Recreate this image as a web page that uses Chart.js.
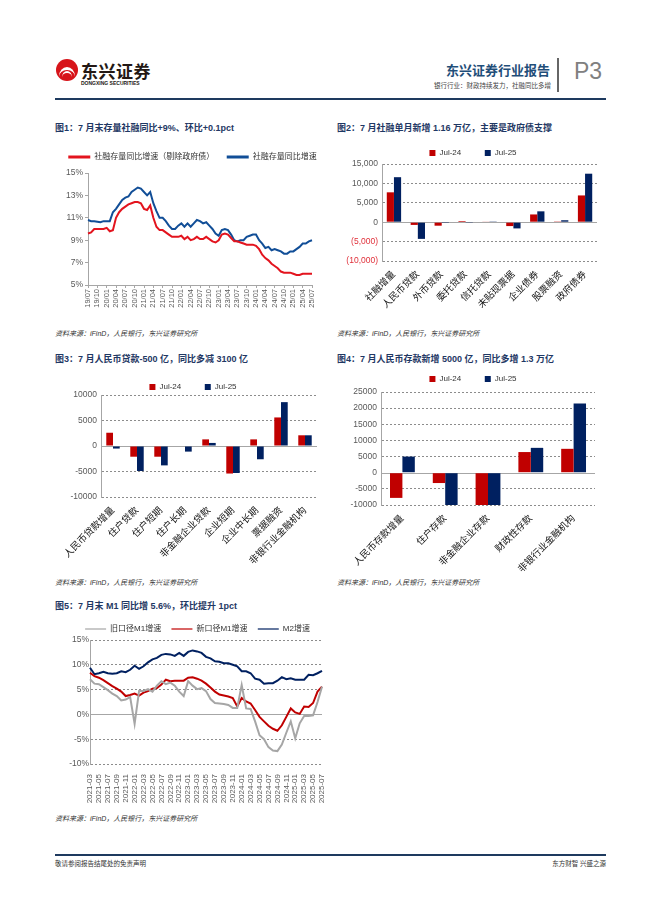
<!DOCTYPE html>
<html lang="zh">
<head>
<meta charset="UTF-8">
<title>东兴证券行业报告 P3</title>
<script src="https://cdn.jsdelivr.net/npm/chart.js"></script>
<style>
  body { margin: 0; background: #fff; font-family: "Liberation Sans", "Noto Sans CJK SC", sans-serif; }
  #page { position: relative; width: 662px; height: 898px; overflow: hidden; }
  .abs { position: absolute; white-space: nowrap; }
  .title { font-size: 9px; font-weight: bold; color: #1F3864; }
  .src { font-size: 7px; font-style: italic; color: #333; }
  canvas { position: absolute; }
</style>
</head>
<body>
<div id="page">
  <!-- header -->
  <div class="abs" style="left:56px;top:59px;width:22px;height:22px;border-radius:50%;background:#D7141A;overflow:hidden">
    <div style="position:absolute;left:3px;top:8px;width:16px;height:16px;border-radius:50%;border-top:3px solid #fff;"></div>
    <div style="position:absolute;left:6px;top:12px;width:10px;height:10px;border-radius:50%;border-top:2px solid #fff;"></div>
  </div>
  <div class="abs" style="left:81px;top:58px;font-size:17px;font-weight:bold;color:#231815;letter-spacing:0.5px">东兴证券</div>
  <div class="abs" style="left:81px;top:80px;font-size:5px;font-weight:bold;color:#231815">DONGXING SECURITIES</div>
  <div class="abs" style="right:112px;top:60px;font-size:13px;font-weight:bold;color:#1F4E79">东兴证券行业报告</div>
  <div class="abs" style="right:111px;top:80px;font-size:6.5px;color:#444">银行行业：财政持续发力，社融同比多增</div>
  <div class="abs" style="left:557px;top:58px;width:1.5px;height:34px;background:#666"></div>
  <div class="abs" style="left:574px;top:58px;font-size:23px;color:#808080;font-family:'Liberation Sans'">P3</div>
  <div class="abs" style="left:55px;top:98px;width:551px;height:1.5px;background:#1E3A5F"></div>

  <div class="abs title" style="left:55px;top:121px">图1：7 月末存量社融同比+9%、环比+0.1pct</div>
  <div class="abs title" style="left:337px;top:121px">图2：7 月社融单月新增 1.16 万亿，主要是政府债支撑</div>
  <canvas id="c1" width="305" height="172" style="left:25px;top:145px"></canvas>
  <canvas id="c2" width="280" height="178" style="left:335px;top:141px"></canvas>
  <div class="abs src" style="left:55px;top:328px">资料来源：iFinD，人民银行，东兴证券研究所</div>
  <div class="abs src" style="left:337px;top:328px">资料来源：iFinD，人民银行，东兴证券研究所</div>

  <div class="abs title" style="left:55px;top:352px">图3：7 月人民币贷款-500 亿，同比多减 3100 亿</div>
  <div class="abs title" style="left:337px;top:352px">图4：7 月人民币存款新增 5000 亿，同比多增 1.3 万亿</div>
  <canvas id="c3" width="290" height="190" style="left:45px;top:375px"></canvas>
  <canvas id="c4" width="280" height="210" style="left:335px;top:367px"></canvas>
  <div class="abs src" style="left:55px;top:577px">资料来源：iFinD，人民银行，东兴证券研究所</div>
  <div class="abs src" style="left:337px;top:577px">资料来源：iFinD，人民银行，东兴证券研究所</div>

  <div class="abs title" style="left:55px;top:599px">图5：7 月末 M1 同比增 5.6%，环比提升 1pct</div>
  <canvas id="c5" width="295" height="187" style="left:45px;top:617px"></canvas>
  <div class="abs src" style="left:55px;top:813px">资料来源：iFinD，人民银行，东兴证券研究所</div>

  <!-- footer -->
  <div class="abs" style="left:55px;top:854px;width:551px;height:1.5px;background:#1E3A5F"></div>
  <div class="abs" style="left:55px;top:858px;font-size:6.5px;color:#333">敬请参阅报告结尾处的免责声明</div>
  <div class="abs" style="right:56px;top:858px;font-size:6.5px;color:#333">东方财智 兴盛之源</div>
</div>

<script>
// 图1 存量社融同比（月度）
const months1 = [
  '19/07','19/08','19/09','19/10','19/11','19/12',
  '20/01','20/02','20/03','20/04','20/05','20/06','20/07','20/08','20/09','20/10','20/11','20/12',
  '21/01','21/02','21/03','21/04','21/05','21/06','21/07','21/08','21/09','21/10','21/11','21/12',
  '22/01','22/02','22/03','22/04','22/05','22/06','22/07','22/08','22/09','22/10','22/11','22/12',
  '23/01','23/02','23/03','23/04','23/05','23/06','23/07','23/08','23/09','23/10','23/11','23/12',
  '24/01','24/02','24/03','24/04','24/05','24/06','24/07','24/08','24/09','24/10','24/11','24/12',
  '25/01','25/02','25/03','25/04','25/05','25/06','25/07'
];
const tsfExGov = [9.6,9.7,10.0,10.0,10.0,10.0, 10.1,9.8,9.9,11.0,11.5,11.8, 12.0,12.2,12.3,12.4,12.4,12.3,
  11.8,11.7,12.1,11.0,10.2,9.9, 9.9,9.7,9.5,9.3,9.3,9.3, 9.4,9.1,9.3,9.0,9.1,9.3,
  9.1,9.1,9.3,9.1,8.9,8.8, 9.0,9.5,9.6,9.5,9.2,8.9, 8.9,8.8,8.7,8.6,8.6,8.6,
  8.5,8.2,7.7,7.4,7.2,6.9, 6.7,6.5,6.2,6.1,6.1,6.1, 6.0,5.9,5.9,6.0,6.0,6.0,6.0];
const tsfTotal = [10.8,10.7,10.7,10.65,10.6,10.7, 10.7,10.7,11.5,11.8,12.2,12.6, 12.8,12.9,13.3,13.5,13.7,13.6,
  13.3,13.0,13.3,12.3,11.6,11.0, 11.0,10.7,10.3,10.0,10.0,10.3, 10.5,10.2,10.5,10.2,10.5,10.8,
  10.7,10.5,10.6,10.3,10.0,9.6, 9.4,9.9,10.0,9.9,9.5,9.0, 8.9,9.0,9.0,9.3,9.4,9.5,
  9.5,9.0,8.7,8.3,8.4,8.1, 8.2,8.1,8.0,7.8,7.8,8.0, 8.0,8.2,8.4,8.7,8.7,8.9,9.0];

// 图2 社融单月新增（亿元）
const cats2 = ['社融增量','人民币贷款','外币贷款','委托贷款','信托贷款','未贴现票据','企业债券','股票融资','政府债券'];
const tsf24 = [7700,-700,-900,300,100,-1000,2000,200,6900];
const tsf25 = [11600,-4300,-30,-200,60,-1600,2800,500,12500];

// 图3 人民币贷款（亿元）
const cats3 = ['人民币贷款增量','住户贷款','住户短期','住户长期','非金融企业贷款','企业短期','企业中长期','票据融资','非银行业金融机构'];
const loan24 = [2600,-2100,-2100,0,1300,-5400,1300,5600,2100];
const loan25 = [-500,-4900,-3800,-1100,600,-5300,-2600,8600,2100];

// 图4 人民币存款（亿元）
const cats4 = ['人民币存款增量','住户存款','非金融企业存款','财政性存款','非银行业金融机构'];
const dep24 = [-7800,-3200,-12000,6400,7400];
const dep25 = [5000,-11100,-14600,7700,21400];

// 图5 M1/M2 同比（月度）
const months5 = [
  '2021-03','2021-04','2021-05','2021-06','2021-07','2021-08','2021-09','2021-10','2021-11','2021-12',
  '2022-01','2022-02','2022-03','2022-04','2022-05','2022-06','2022-07','2022-08','2022-09','2022-10','2022-11','2022-12',
  '2023-01','2023-02','2023-03','2023-04','2023-05','2023-06','2023-07','2023-08','2023-09','2023-10','2023-11','2023-12',
  '2024-01','2024-02','2024-03','2024-04','2024-05','2024-06','2024-07','2024-08','2024-09','2024-10','2024-11','2024-12',
  '2025-01','2025-02','2025-03','2025-04','2025-05','2025-06','2025-07'
];
const m1Old = [7.1,6.2,6.1,5.5,4.9,4.2,3.7,2.8,3.0,3.5, -1.9,4.7,4.7,5.1,4.6,5.8,6.7,6.1,6.4,5.8,
  4.6,3.7,6.7,5.8,5.1,5.3,4.7,3.1,2.3,2.2, 2.1,1.9,1.3,1.3,5.9,1.2,1.1,-1.4,-4.2,-5.0,
  -6.6,-7.3,-7.4,-6.1,-3.7,-1.4,-4.8,-1.8,-0.3,-0.3, -0.2,2.5,5.6];
const m1New = [8.4,7.7,7.4,6.9,6.3,5.7,5.2,4.6,3.7,3.9, 4.2,3.8,4.4,4.7,5.2,5.3,6.0,7.0,6.7,6.8,
  6.8,6.8,7.4,7.5,7.2,6.8,6.2,5.4,4.6,4.0, 3.8,3.6,3.3,1.6,3.3,2.6,2.2,0.9,-0.5,-1.4,
  -2.3,-2.9,-3.3,-2.2,-0.5,1.2,0.4,0.1,1.6,1.5, 2.3,4.6,5.6];
const m2 = [9.4,8.1,8.3,8.6,8.3,8.2,8.3,8.7,8.5,9.0, 9.8,9.2,9.7,10.5,11.1,11.4,12.0,12.2,12.1,11.8,
  12.4,11.8,12.6,12.9,12.7,12.4,11.6,11.3,10.7,10.6, 10.3,10.3,10.0,9.7,8.7,8.7,8.3,7.2,7.0,6.2,
  6.3,6.3,6.8,7.5,7.1,7.3,7.0,7.0,7.0,8.0, 7.9,8.3,8.8];

const RED = '#C00000', NAVY = '#002060', AXIS = '#A6A6A6';

Chart.defaults.font.family = "'Liberation Sans', 'Noto Sans CJK SC', sans-serif";
Chart.defaults.color = '#595959';
Chart.defaults.animation = false;

// move the legend: extra space under it, and a sideways nudge
const legendShift = {
  id: 'legendShift',
  beforeLayout(chart, args, opts) {
    const lg = chart.legend;
    if (lg && !lg._shifted) {
      const fit = lg.fit;
      lg.fit = function () { fit.call(this); this.height += opts.extra || 0; };
      lg._shifted = true;
    }
  },
  afterLayout(chart, args, opts) {
    const lg = chart.legend;
    if (lg && opts.dx) { lg.left += opts.dx; lg.right += opts.dx; }
  }
};

// solid line at zero
const zeroLine = {
  id: 'zeroLine',
  beforeDatasetsDraw(chart) {
    const y = Math.round(chart.scales.y.getPixelForValue(0)) + 0.5;
    const a = chart.chartArea, ctx = chart.ctx;
    ctx.save();
    ctx.strokeStyle = AXIS;
    ctx.lineWidth = 1;
    ctx.beginPath(); ctx.moveTo(a.left, y); ctx.lineTo(a.right, y); ctx.stroke();
    ctx.restore();
  }
};

// legend items with a wider gap after them (and optional line width)
function spaced(gap, lw) {
  return chart => Chart.defaults.plugins.legend.labels.generateLabels(chart)
    .map((it, i, arr) => {
      if (i < arr.length - 1) it.text += gap;
      if (lw) it.lineWidth = lw;
      return it;
    });
}

function everyNth(n) {
  return s => { s.ticks = s.ticks.filter((t, i) => i % n === 0); };
}

// 图1
new Chart(document.getElementById('c1'), {
  type: 'line',
  data: {
    labels: months1,
    datasets: [
      { label: '社融存量同比增速（剔除政府债）', data: tsfExGov, borderColor: '#E3141E', backgroundColor: '#E3141E', borderWidth: 2, pointRadius: 0, tension: 0 },
      { label: '社融存量同比增速', data: tsfTotal, borderColor: '#114E97', backgroundColor: '#114E97', borderWidth: 2, pointRadius: 0, tension: 0 }
    ]
  },
  options: {
    responsive: false,
    layout: { padding: { left: 0, right: 18, top: 0, bottom: 0 } },
    plugins: {
      legend: { labels: { font: { size: 8 }, color: '#333', padding: 8, usePointStyle: true, pointStyle: 'line', pointStyleWidth: 22, generateLabels: spaced('  ', 3) } },
      legendShift: { extra: 2, dx: 24 },
      tooltip: { enabled: false }
    },
    scales: {
      x: {
        afterFit: s => { s.height = 32; },
        afterBuildTicks: everyNth(3),
        ticks: { autoSkip: false, minRotation: 90, maxRotation: 90, font: { size: 7.5 }, padding: 1 },
        grid: { drawOnChartArea: false, tickLength: 3, color: AXIS },
        border: { color: AXIS }
      },
      y: {
        min: 5, max: 15,
        afterFit: s => { s.width = 63; },
        ticks: { stepSize: 2, callback: v => v + '%', font: { size: 8.5 }, padding: 2 },
        grid: { drawOnChartArea: false, tickLength: 3, color: AXIS },
        border: { color: AXIS }
      }
    }
  },
  plugins: [legendShift]
});

function barChart(id, cats, a, b, cfg) {
  return new Chart(document.getElementById(id), {
    type: 'bar',
    data: {
      labels: cats,
      datasets: [
        { label: 'Jul-24', data: a, backgroundColor: RED, borderWidth: 0 },
        { label: 'Jul-25', data: b, backgroundColor: NAVY, borderWidth: 0 }
      ]
    },
    options: {
      responsive: false,
      datasets: { bar: { categoryPercentage: cfg.cat, barPercentage: 1 } },
      layout: { padding: { left: 0, right: cfg.padR, top: 0, bottom: 0 } },
      plugins: {
        legend: { labels: { font: { size: 8 }, color: '#333', padding: 8, boxWidth: 6, boxHeight: 6, generateLabels: spaced('       ') } },
        legendShift: { extra: cfg.extra, dx: cfg.dx },
        tooltip: { enabled: false }
      },
      scales: {
        x: {
          afterFit: s => { s.height = cfg.xH; },
          ticks: { autoSkip: false, minRotation: 45, maxRotation: 45, font: { size: 9.5 }, color: '#111', padding: 0 },
          grid: { display: false },
          border: { display: false }
        },
        y: {
          min: cfg.min, max: cfg.max,
          afterFit: s => { s.width = cfg.yW; },
          ticks: { stepSize: 5000, font: { size: 8.5 }, padding: 4, callback: cfg.fmt, color: cfg.tickColor || '#595959' },
          grid: { drawTicks: false, color: c => (c.tick && c.tick.value === 0) ? 'rgba(0,0,0,0)' : '#8C8C8C' },
          border: { color: AXIS, dash: [2, 2] }
        }
      }
    },
    plugins: [legendShift, zeroLine]
  });
}

// 图2
barChart('c2', cats2, tsf24, tsf25, {
  cat: 0.6, padR: 18, yW: 47, xH: 58, extra: -3, dx: 7, min: -10000, max: 15000,
  fmt: v => v < 0 ? '(' + (-v).toLocaleString('en-US') + ')' : v.toLocaleString('en-US'),
  tickColor: c => c.tick.value < 0 ? '#E0303A' : '#595959'
});

// 图3
barChart('c3', cats3, loan24, loan25, {
  cat: 0.56, padR: 18, yW: 56, xH: 68, extra: -6, dx: 12, min: -10000, max: 10000,
  fmt: v => v
});

// 图4
barChart('c4', cats4, dep24, dep25, {
  cat: 0.58, padR: 20, yW: 46, xH: 72, extra: -1, dx: 8, min: -10000, max: 25000,
  fmt: v => v
});

// 图5
new Chart(document.getElementById('c5'), {
  type: 'line',
  data: {
    labels: months5,
    datasets: [
      { label: '旧口径M1增速', data: m1Old, borderColor: '#A6A6A6', backgroundColor: '#A6A6A6', borderWidth: 2, pointRadius: 0 },
      { label: '新口径M1增速', data: m1New, borderColor: RED, backgroundColor: RED, borderWidth: 2, pointRadius: 0 },
      { label: 'M2增速', data: m2, borderColor: NAVY, backgroundColor: NAVY, borderWidth: 2, pointRadius: 0 }
    ]
  },
  options: {
    responsive: false,
    layout: { padding: { left: 0, right: 18, top: 0, bottom: 0 } },
    plugins: {
      legend: { labels: { font: { size: 8 }, color: '#333', padding: 8, usePointStyle: true, pointStyle: 'line', pointStyleWidth: 21, generateLabels: spaced(' ', 1.2) } },
      legendShift: { extra: -3, dx: 14 },
      tooltip: { enabled: false }
    },
    scales: {
      x: {
        afterFit: s => { s.height = 40; },
        afterBuildTicks: everyNth(2),
        ticks: { autoSkip: false, minRotation: 90, maxRotation: 90, font: { size: 8 }, padding: 2 },
        grid: { display: false },
        border: { display: false }
      },
      y: {
        min: -10, max: 15,
        afterFit: s => { s.width = 45; },
        ticks: { stepSize: 5, callback: v => v + '%', font: { size: 8.5 }, padding: 1 },
        grid: { drawTicks: false, color: c => (c.tick && c.tick.value === 0) ? 'rgba(0,0,0,0)' : '#8C8C8C' },
        border: { color: AXIS, dash: [2, 2] }
      }
    }
  },
  plugins: [legendShift, zeroLine]
});
</script>
</body>
</html>
